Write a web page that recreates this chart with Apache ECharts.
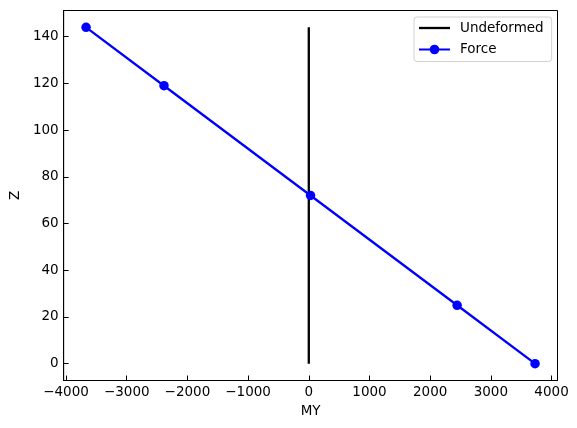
<!DOCTYPE html>
<html>
<head>
<meta charset="utf-8">
<script src="https://cdn.jsdelivr.net/npm/echarts@6/dist/echarts.min.js"></script>
<style>
html,body{margin:0;padding:0;background:#fff;}
#chart{width:577px;height:428px;}
</style>
</head>
<body>
<div id="chart"></div>
<script>
const undeformedMY = [0, 0];
const undeformedZ = [0, 144];
const forceMY = [-3670, -2386, 29, 2444, 3728];
const forceZ = [144, 119, 72, 25, 0];
const xTicks = [-4000, -3000, -2000, -1000, 0, 1000, 2000, 3000, 4000];
const yTicks = [0, 20, 40, 60, 80, 100, 120, 140];
const seriesNames = ['Undeformed', 'Force'];

const FONT = 'DejaVu Sans';
const FS = 13.5;
const fmt = v => String(v).replace('-', '\u2212');

const chart = echarts.init(document.getElementById('chart'), null, {renderer: 'canvas'});
chart.setOption({
  animation: false,
  backgroundColor: '#ffffff',
  textStyle: {fontFamily: FONT},
  grid: {
    left: 61.5, right: 19.5, top: 10.5, bottom: 47.5,
    show: true, borderColor: '#000', borderWidth: 1, backgroundColor: 'transparent'
  },
  legend: {
    left: 414, top: 17,
    orient: 'vertical',
    data: [
      {name: seriesNames[0], icon: 'path://M0,0H31V2.3H0Z'},
      {name: seriesNames[1]}
    ],
    itemWidth: 31, itemHeight: 12, itemGap: 7.5,
    padding: [4, 8, 5, 4],
    backgroundColor: '#fff',
    borderColor: '#d0d0d0', borderWidth: 1, borderRadius: 3,
    textStyle: {fontFamily: FONT, fontSize: FS, color: '#000', padding: [0, 0, 0, 5], lineHeight: 14}
  },
  xAxis: {
    type: 'value',
    min: -4039, max: 4098,
    name: 'MY', nameLocation: 'middle', nameGap: 24,
    nameTextStyle: {fontFamily: FONT, fontSize: FS, color: '#000'},
    axisLine: {show: true, onZero: false, lineStyle: {color: '#000', width: 1}},
    axisTick: {show: true, inside: true, length: 5, lineStyle: {color: '#000', width: 1}, customValues: xTicks},
    axisLabel: {show: true, margin: 5, fontFamily: FONT, fontSize: FS, color: '#000', customValues: xTicks, formatter: fmt},
    splitLine: {show: false}
  },
  yAxis: {
    type: 'value',
    min: -7.2, max: 151.2,
    name: 'Z', nameLocation: 'middle', nameGap: 38,
    nameTextStyle: {fontFamily: FONT, fontSize: FS, color: '#000'},
    axisLine: {show: true, onZero: false, lineStyle: {color: '#000', width: 1}},
    axisTick: {show: true, inside: true, length: 5, lineStyle: {color: '#000', width: 1}, customValues: yTicks},
    axisLabel: {show: true, margin: 5, fontFamily: FONT, fontSize: FS, color: '#000', customValues: yTicks, formatter: fmt},
    splitLine: {show: false}
  },
  series: [
    {
      name: seriesNames[0], type: 'line',
      data: undeformedMY.map((x, i) => [x, undeformedZ[i]]),
      symbol: 'none', showSymbol: false,
      lineStyle: {color: '#000', width: 2.3},
      itemStyle: {color: '#000'}
    },
    {
      name: seriesNames[1], type: 'line',
      data: forceMY.map((x, i) => [x, forceZ[i]]),
      symbol: 'circle', symbolSize: 9.5, showSymbol: true,
      lineStyle: {color: '#0000ff', width: 2.3},
      itemStyle: {color: '#0000ff', borderWidth: 0}
    }
  ]
});
</script>
</body>
</html>
